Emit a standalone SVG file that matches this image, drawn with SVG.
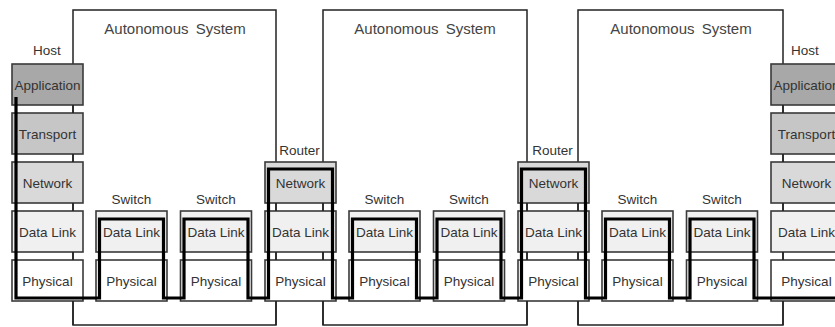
<svg xmlns="http://www.w3.org/2000/svg" width="835" height="327" viewBox="0 0 835 327">
<style>
text{font-family:"Liberation Sans",Arial,sans-serif;font-size:13.5px;fill:#333;text-anchor:middle;dominant-baseline:central}
.as{fill:none;stroke:#222;stroke-width:1.5}
.ast{font-size:15px;fill:#444;word-spacing:3px}
.b{stroke:#3a3a3a;stroke-width:1.6}
.app{fill:#a8a8a8}.tr{fill:#c6c6c6}.net{fill:#d9d9d9}.dl{fill:#f0f0f0}.ph{fill:#fff}
.path{fill:none;stroke:#000;stroke-width:3.2;stroke-linejoin:miter}
</style>
<rect width="835" height="327" fill="#fff"/>
<g id="as1"><rect class="as" x="73" y="10" width="203" height="315"/><text class="ast" x="175" y="28">Autonomous System</text></g>
<g id="as2"><rect class="as" x="323" y="10" width="204" height="315"/><text class="ast" x="425" y="28">Autonomous System</text></g>
<g id="as3"><rect class="as" x="578" y="10" width="205" height="315"/><text class="ast" x="681" y="28">Autonomous System</text></g>

<g id="hostL">
<text x="47" y="50">Host</text>
<rect class="b app" x="12" y="64" width="71" height="41"/><text x="47.5" y="85">Application</text>
<rect class="b tr" x="12" y="113" width="71" height="41"/><text x="47.5" y="134">Transport</text>
<rect class="b net" x="12" y="162" width="71" height="41"/><text x="47.5" y="183">Network</text>
<rect class="b dl" x="12" y="211" width="71" height="41"/><text x="47.5" y="232">Data Link</text>
<rect class="b ph" x="12" y="260" width="71" height="41"/><text x="47.5" y="281">Physical</text>
</g>
<g id="sw1">
<text x="131.5" y="199">Switch</text>
<rect class="b dl" x="96" y="211" width="71" height="41"/><text x="131.5" y="232">Data Link</text>
<rect class="b ph" x="96" y="260" width="71" height="41"/><text x="131.5" y="281">Physical</text>
</g>
<g id="sw2">
<text x="216" y="199">Switch</text>
<rect class="b dl" x="180.5" y="211" width="71" height="41"/><text x="216" y="232">Data Link</text>
<rect class="b ph" x="180.5" y="260" width="71" height="41"/><text x="216" y="281">Physical</text>
</g>
<g id="r1">
<text x="299.5" y="150">Router</text>
<rect class="b net" x="265" y="162" width="71" height="41"/><text x="300.5" y="183">Network</text>
<rect class="b dl" x="265" y="211" width="71" height="41"/><text x="300.5" y="232">Data Link</text>
<rect class="b ph" x="265" y="260" width="71" height="41"/><text x="300.5" y="281">Physical</text>
</g>
<g id="sw3">
<text x="384.5" y="199">Switch</text>
<rect class="b dl" x="349" y="211" width="71" height="41"/><text x="384.5" y="232">Data Link</text>
<rect class="b ph" x="349" y="260" width="71" height="41"/><text x="384.5" y="281">Physical</text>
</g>
<g id="sw4">
<text x="469" y="199">Switch</text>
<rect class="b dl" x="433.5" y="211" width="71" height="41"/><text x="469" y="232">Data Link</text>
<rect class="b ph" x="433.5" y="260" width="71" height="41"/><text x="469" y="281">Physical</text>
</g>
<g id="r2">
<text x="552.5" y="150">Router</text>
<rect class="b net" x="518" y="162" width="71" height="41"/><text x="553.5" y="183">Network</text>
<rect class="b dl" x="518" y="211" width="71" height="41"/><text x="553.5" y="232">Data Link</text>
<rect class="b ph" x="518" y="260" width="71" height="41"/><text x="553.5" y="281">Physical</text>
</g>
<g id="sw5">
<text x="637.5" y="199">Switch</text>
<rect class="b dl" x="602" y="211" width="71" height="41"/><text x="637.5" y="232">Data Link</text>
<rect class="b ph" x="602" y="260" width="71" height="41"/><text x="637.5" y="281">Physical</text>
</g>
<g id="sw6">
<text x="722" y="199">Switch</text>
<rect class="b dl" x="686.5" y="211" width="71" height="41"/><text x="722" y="232">Data Link</text>
<rect class="b ph" x="686.5" y="260" width="71" height="41"/><text x="722" y="281">Physical</text>
</g>
<g id="hostR">
<text x="805" y="50">Host</text>
<rect class="b app" x="771" y="64" width="71" height="41"/><text x="806.5" y="85">Application</text>
<rect class="b tr" x="771" y="113" width="71" height="41"/><text x="806.5" y="134">Transport</text>
<rect class="b net" x="771" y="162" width="71" height="41"/><text x="806.5" y="183">Network</text>
<rect class="b dl" x="771" y="211" width="71" height="41"/><text x="806.5" y="232">Data Link</text>
<rect class="b ph" x="771" y="260" width="71" height="41"/><text x="806.5" y="281">Physical</text>
</g>

<g id="connectors">
<path class="as" d="M73 105V113M73 154V162M73 203V211M73 252V260M73 301V325"/>
<path class="as" d="M276 203V211M276 252V260M276 301V325M323 203V211M323 252V260M323 301V325"/>
<path class="as" d="M527 203V211M527 252V260M527 301V325M578 203V211M578 252V260M578 301V325"/>
<path class="as" d="M783 105V113M783 154V162M783 203V211M783 252V260M783 301V325"/>
<path class="path" d="M16 97V298H99.5V219H163.5V298H184V219H248V298H268.5V169H332.5V298H352.5V219H416.5V298H437V219H501V298H521.5V169H585.5V298H605.5V219H669.5V298H690V219H754V298H840"/>
</g>
</svg>
